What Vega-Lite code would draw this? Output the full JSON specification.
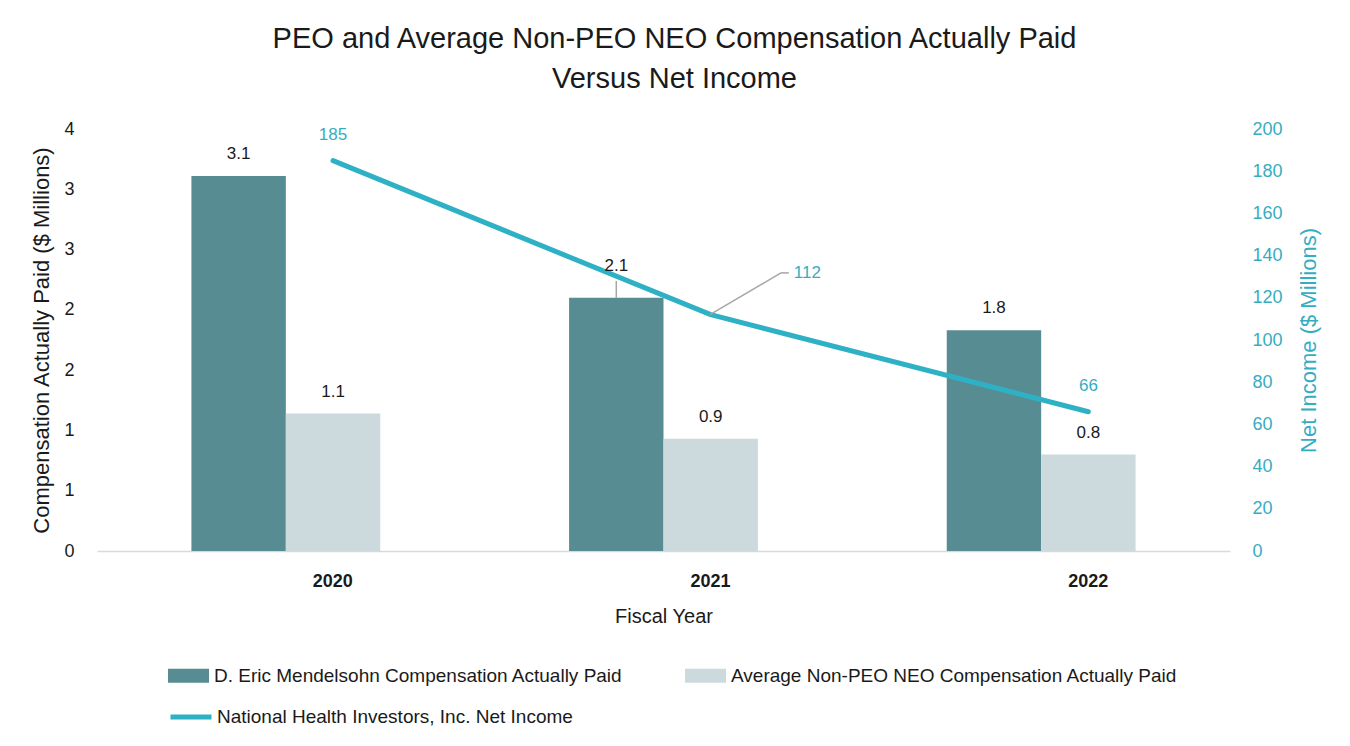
{
  "$schema": "https://vega.github.io/schema/vega-lite/v6.json",
  "width": 1133,
  "height": 422,
  "autosize": "none",
  "padding": {"left": 97, "top": 129, "right": 120, "bottom": 195},
  "background": "white",
  "config": {
    "font": "Liberation Sans",
    "view": {"stroke": null},
    "axis": {"grid": false, "ticks": false}
  },
  "title": {
    "text": ["PEO and Average Non-PEO NEO Compensation Actually Paid", "Versus Net Income"],
    "fontSize": 29,
    "fontWeight": "normal",
    "color": "#1a1a1a",
    "lineHeight": 40,
    "anchor": "middle",
    "frame": "group",
    "dx": 11,
    "offset": 26
  },
  "datasets": {
    "comp": [
      {"year": "2020", "series": "D. Eric Mendelsohn Compensation Actually Paid", "value": 3.11},
      {"year": "2020", "series": "Average Non-PEO NEO Compensation Actually Paid", "value": 1.14},
      {"year": "2021", "series": "D. Eric Mendelsohn Compensation Actually Paid", "value": 2.1},
      {"year": "2021", "series": "Average Non-PEO NEO Compensation Actually Paid", "value": 0.93},
      {"year": "2022", "series": "D. Eric Mendelsohn Compensation Actually Paid", "value": 1.83},
      {"year": "2022", "series": "Average Non-PEO NEO Compensation Actually Paid", "value": 0.8}
    ],
    "income": [
      {"year": "2020", "income": 185},
      {"year": "2021", "income": 112},
      {"year": "2022", "income": 66}
    ]
  },
  "layer": [
    {
      "data": {"name": "comp"},
      "mark": {"type": "bar"},
      "encoding": {
        "x": {
          "field": "year", "type": "nominal",
          "scale": {"paddingInner": 0, "paddingOuter": 0},
          "axis": {
            "title": "Fiscal Year", "labelAngle": 0, "labelOffset": 47,
            "labelFontWeight": "bold", "labelFontSize": 18, "labelColor": "#1a1a1a",
            "labelPadding": 21, "domainColor": "#d9d9d9", "domainWidth": 1.5,
            "titleFontSize": 20, "titleFontWeight": "normal", "titlePadding": 16, "titleColor": "#1a1a1a"
          }
        },
        "xOffset": {
          "field": "series", "type": "nominal",
          "scale": {"domain": ["D. Eric Mendelsohn Compensation Actually Paid", "Average Non-PEO NEO Compensation Actually Paid"], "paddingInner": 0, "paddingOuter": 1}
        },
        "y": {
          "field": "value", "type": "quantitative",
          "scale": {"domain": [0, 3.5], "nice": false},
          "axis": {
            "values": [0, 0.5, 1, 1.5, 2, 2.5, 3, 3.5],
            "labelExpr": "round(datum.value)",
            "domain": false,
            "labelFontSize": 18, "labelColor": "#1a1a1a", "labelPadding": 23,
            "title": "Compensation Actually Paid ($ Millions)",
            "titleFontSize": 22, "titleFontWeight": "normal", "titleColor": "#1a1a1a", "titlePadding": 10
          }
        },
        "fill": {
          "field": "series", "type": "nominal",
          "scale": {"domain": ["D. Eric Mendelsohn Compensation Actually Paid", "Average Non-PEO NEO Compensation Actually Paid"], "range": ["#588c93", "#ccd9dd"]},
          "legend": {
            "orient": "none", "legendX": 71, "legendY": 526, "direction": "horizontal",
            "title": null, "symbolType": "M-1,-0.34L1,-0.34L1,0.34L-1,0.34Z", "symbolSize": 1681,
            "symbolStrokeWidth": 0, "labelFontSize": 19, "labelColor": "#1a1a1a",
            "labelOffset": 5, "columnPadding": 62, "labelLimit": 700, "padding": 0
          }
        }
      }
    },
    {
      "data": {"name": "income"},
      "mark": {"type": "line", "strokeWidth": 5, "strokeCap": "round", "strokeJoin": "round"},
      "encoding": {
        "x": {"field": "year", "type": "nominal", "bandPosition": 0.625},
        "y": {
          "field": "income", "type": "quantitative",
          "scale": {"domain": [0, 200], "nice": false},
          "axis": {
            "orient": "right", "values": [0, 20, 40, 60, 80, 100, 120, 140, 160, 180, 200],
            "domain": false, "labelFontSize": 18, "labelColor": "#35adc1", "labelPadding": 22,
            "title": "Net Income ($ Millions)", "titleAngle": 270,
            "titleFontSize": 22, "titleFontWeight": "normal", "titleColor": "#35adc1", "titlePadding": 38
          }
        },
        "stroke": {
          "datum": "National Health Investors, Inc. Net Income",
          "type": "nominal",
          "scale": {"range": ["#2fb1c5"]},
          "legend": {
            "orient": "none", "legendX": 71, "legendY": 565,
            "title": null, "symbolType": "stroke", "symbolSize": 1681, "symbolStrokeWidth": 5,
            "labelFontSize": 19, "labelColor": "#1a1a1a", "labelOffset": 3, "labelLimit": 700, "padding": 0
          }
        }
      }
    },
    {
      "data": {"name": "comp"},
      "encoding": {
        "x": {"field": "year", "type": "nominal"},
        "xOffset": {"field": "series", "type": "nominal"},
        "y": {"field": "value", "type": "quantitative", "scale": {"domain": [0, 3.5], "nice": false}, "axis": null}
      },
      "layer": [
        {
          "transform": [{"filter": "!(datum.year == '2021' && datum.series == 'D. Eric Mendelsohn Compensation Actually Paid')"}],
          "mark": {"type": "text", "baseline": "alphabetic", "dy": -17, "fontSize": 17, "color": "#1a1a1a"},
          "encoding": {"text": {"field": "value", "format": ".1f"}}
        },
        {
          "transform": [{"filter": "datum.year == '2021' && datum.series == 'D. Eric Mendelsohn Compensation Actually Paid'"}],
          "mark": {"type": "text", "baseline": "alphabetic", "dy": -27, "fontSize": 17, "color": "#1a1a1a"},
          "encoding": {"text": {"field": "value", "format": ".1f"}}
        },
        {
          "transform": [{"filter": "datum.year == '2021' && datum.series == 'D. Eric Mendelsohn Compensation Actually Paid'"}],
          "mark": {"type": "rule", "color": "#a6a6a6", "strokeWidth": 1.5},
          "encoding": {"y2": {"datum": 2.24}}
        }
      ]
    },
    {
      "data": {"name": "income"},
      "encoding": {
        "y": {"field": "income", "type": "quantitative", "scale": {"domain": [0, 200], "nice": false}, "axis": null}
      },
      "layer": [
        {
          "transform": [{"filter": "datum.year != '2021'"}],
          "mark": {"type": "text", "baseline": "alphabetic", "dy": -21, "fontSize": 17, "color": "#35adc1"},
          "encoding": {
            "x": {"field": "year", "type": "nominal", "bandPosition": 0.625},
            "text": {"field": "income", "type": "quantitative"}
          }
        },
        {
          "transform": [{"filter": "datum.year == '2021'"}],
          "mark": {"type": "rule", "color": "#a6a6a6", "strokeWidth": 1.5},
          "encoding": {
            "x": {"field": "year", "type": "nominal", "bandPosition": 0.623},
            "x2": {"field": "year", "bandPosition": 0.811},
            "y2": {"datum": 131.8}
          }
        },
        {
          "transform": [{"filter": "datum.year == '2021'"}],
          "mark": {"type": "rule", "color": "#a6a6a6", "strokeWidth": 1.5},
          "encoding": {
            "x": {"field": "year", "type": "nominal", "bandPosition": 0.811},
            "x2": {"field": "year", "bandPosition": 0.832},
            "y": {"datum": 131.8}
          }
        },
        {
          "transform": [{"filter": "datum.year == '2021'"}],
          "mark": {"type": "text", "align": "left", "baseline": "middle", "fontSize": 17, "color": "#35adc1"},
          "encoding": {
            "x": {"field": "year", "type": "nominal", "bandPosition": 0.845},
            "y": {"datum": 131.8},
            "text": {"field": "income", "type": "quantitative"}
          }
        }
      ]
    }
  ],
  "resolve": {"scale": {"y": "independent"}}
}
